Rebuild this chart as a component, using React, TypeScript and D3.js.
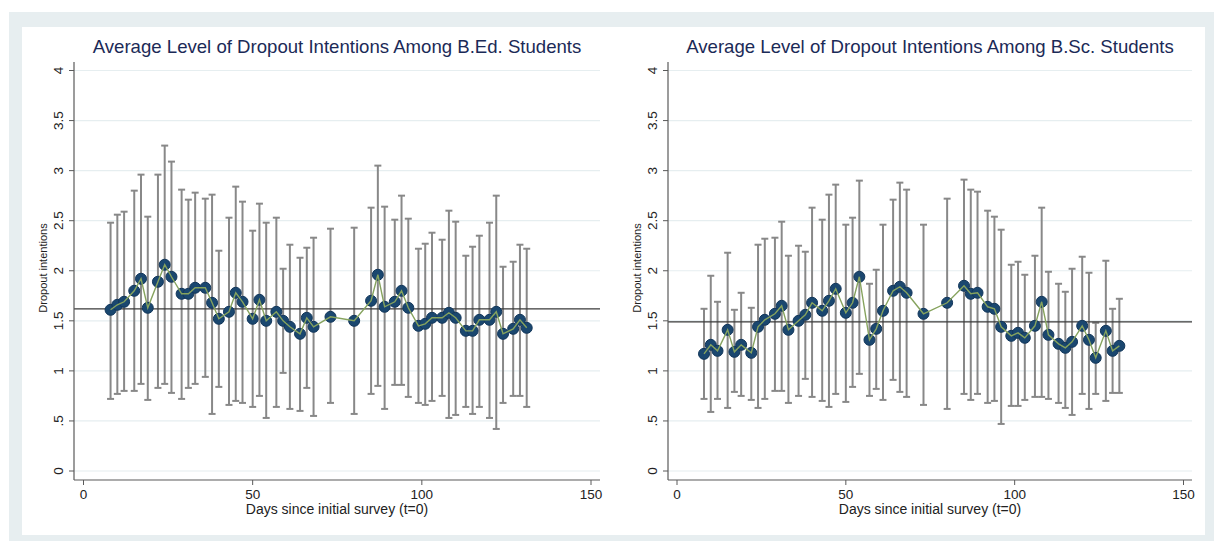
import React from "react";
import * as d3 from "d3";

// days since the first survey, shared by both groups
const days = [
  8, 10, 12, 15, 17, 19, 22, 24, 26, 29, 31, 33, 36, 38, 40, 43, 45, 47, 50, 52,
  54, 57, 59, 61, 64, 66, 68, 73, 80, 85, 87, 89, 92, 94, 96, 99, 101, 103, 106, 108,
  110, 113, 115, 117, 120, 122, 124, 127, 129, 131,
];

// B.Ed. students
const bedMean = [
  1.61, 1.66, 1.69, 1.8, 1.92, 1.63, 1.89, 2.06, 1.94, 1.77, 1.77, 1.83, 1.83, 1.68, 1.52, 1.59, 1.78, 1.69, 1.52, 1.71,
  1.5, 1.59, 1.5, 1.44, 1.37, 1.53, 1.44, 1.54, 1.5, 1.7, 1.96, 1.64, 1.69, 1.8, 1.63, 1.45, 1.47, 1.53, 1.53, 1.58,
  1.53, 1.4, 1.4, 1.51, 1.51, 1.59, 1.37, 1.42, 1.51, 1.43,
];
const bedHigh = [
  2.48, 2.56, 2.59, 2.8, 2.96, 2.54, 2.96, 3.25, 3.09, 2.81, 2.71, 2.78, 2.72, 2.76, 2.2, 2.53, 2.84, 2.69, 2.4, 2.67,
  2.48, 2.53, 2.02, 2.26, 2.13, 2.23, 2.33, 2.42, 2.43, 2.63, 3.05, 2.64, 2.51, 2.75, 2.52, 2.22, 2.27, 2.38, 2.31, 2.6,
  2.49, 2.15, 2.24, 2.35, 2.48, 2.75, 2.04, 2.09, 2.26, 2.22,
];
const bedLow = [
  0.72, 0.77, 0.8, 0.8, 0.87, 0.71, 0.83, 0.87, 0.78, 0.72, 0.83, 0.87, 0.94, 0.57, 0.84, 0.66, 0.7, 0.68, 0.64, 0.75,
  0.53, 0.64, 0.98, 0.62, 0.6, 0.83, 0.55, 0.68, 0.57, 0.77, 0.85, 0.62, 0.86, 0.86, 0.74, 0.68, 0.66, 0.7, 0.75, 0.53,
  0.56, 0.64, 0.57, 0.64, 0.53, 0.42, 0.68, 0.75, 0.75, 0.64,
];
const bedOverall = 1.62;

// B.Sc. students
const bscMean = [
  1.17, 1.26, 1.2, 1.41, 1.19, 1.26, 1.18, 1.44, 1.51, 1.57, 1.65, 1.41, 1.5, 1.56, 1.68, 1.6, 1.7, 1.82, 1.58, 1.68,
  1.94, 1.31, 1.42, 1.6, 1.8, 1.84, 1.78, 1.57, 1.68, 1.85, 1.77, 1.78, 1.64, 1.62, 1.44, 1.35, 1.38, 1.33, 1.45, 1.69,
  1.36, 1.27, 1.23, 1.29, 1.45, 1.31, 1.13, 1.4, 1.2, 1.25,
];
const bscHigh = [
  1.62, 1.95, 1.69, 2.18, 1.61, 1.78, 1.63, 2.26, 2.32, 2.33, 2.49, 2.15, 2.25, 2.19, 2.63, 2.51, 2.76, 2.86, 2.46, 2.53,
  2.9, 1.87, 2.01, 2.46, 2.71, 2.88, 2.81, 2.46, 2.72, 2.91, 2.81, 2.79, 2.6, 2.54, 2.41, 2.06, 2.09, 1.96, 2.15, 2.63,
  1.99, 1.87, 1.79, 2.02, 2.14, 1.98, 1.48, 2.1, 1.62, 1.72,
];
const bscLow = [
  0.72, 0.59, 0.72, 0.63, 0.79, 0.75, 0.71, 0.63, 0.72, 0.8, 0.8, 0.68, 0.75, 0.92, 0.74, 0.7, 0.64, 0.77, 0.69, 0.84,
  0.97, 0.75, 0.82, 0.71, 0.91, 0.79, 0.74, 0.66, 0.62, 0.77, 0.71, 0.77, 0.68, 0.7, 0.47, 0.65, 0.65, 0.71, 0.74, 0.74,
  0.72, 0.68, 0.63, 0.56, 0.77, 0.62, 0.77, 0.7, 0.78, 0.78,
];
const bscOverall = 1.49;

const yTicks = [0, 0.5, 1, 1.5, 2, 2.5, 3, 3.5, 4];
const yTickLabels = ["0", ".5", "1", "1.5", "2", "2.5", "3", "3.5", "4"];
const xTicks = [0, 50, 100, 150];

const FONT = "'Liberation Sans', Arial, Helvetica, sans-serif";

type PanelProps = {
  title: string;
  mean: number[];
  high: number[];
  low: number[];
  overall: number;
  axisX: number;
  x0: number;
  x150: number;
  right: number;
};

function Panel({ title, mean, high, low, overall, axisX, x0, x150, right }: PanelProps) {
  const x = d3.scaleLinear().domain([0, 150]).range([x0, x150]);
  const y = d3.scaleLinear().domain([0, 4]).range([471, 70.5]);
  const axisY = 480;
  const center = (axisX + right) / 2;

  const line = d3
    .line<number>()
    .x((_, i) => x(days[i]))
    .y((d) => y(d));

  return (
    <g fontFamily={FONT}>
      <text x={center} y={53} textAnchor="middle" fontSize={18.6} fill="#1b2a57">
        {title}
      </text>

      {/* grid */}
      {yTicks.map((t) => (
        <line key={"g" + t} x1={axisX} x2={right} y1={y(t)} y2={y(t)} stroke="#e6eef0" strokeWidth={1.2} />
      ))}

      {/* confidence bars */}
      {days.map((d, i) => (
        <g key={"e" + i} stroke="#888888" strokeWidth={2}>
          <line x1={x(d)} x2={x(d)} y1={y(high[i])} y2={y(low[i])} />
          <line x1={x(d) - 3.5} x2={x(d) + 3.5} y1={y(high[i])} y2={y(high[i])} />
          <line x1={x(d) - 3.5} x2={x(d) + 3.5} y1={y(low[i])} y2={y(low[i])} />
        </g>
      ))}

      {/* overall mean */}
      <line x1={axisX} x2={right} y1={y(overall)} y2={y(overall)} stroke="#3a3a3a" strokeWidth={1.3} />

      {days.map((d, i) => (
        <circle key={"m" + i} cx={x(d)} cy={y(mean[i])} r={5.5} fill="#1a476f" stroke="#12365a" strokeWidth={1} />
      ))}
      <path d={line(mean) ?? ""} fill="none" stroke="#86a35e" strokeWidth={1.4} />

      {/* axes */}
      <line x1={axisX} x2={axisX} y1={62} y2={axisY} stroke="#5a5a5a" strokeWidth={1.2} />
      <line x1={axisX} x2={right} y1={axisY} y2={axisY} stroke="#5a5a5a" strokeWidth={1.2} />

      {yTicks.map((t, i) => (
        <g key={"y" + t}>
          <line x1={axisX - 5} x2={axisX} y1={y(t)} y2={y(t)} stroke="#5a5a5a" strokeWidth={1} />
          <text
            transform={`translate(${axisX - 11},${y(t)}) rotate(-90)`}
            textAnchor="middle"
            fontSize={13.5}
            fill="#222"
          >
            {yTickLabels[i]}
          </text>
        </g>
      ))}
      <text
        transform={`translate(${axisX - 27},268) rotate(-90)`}
        textAnchor="middle"
        fontSize={11}
        fill="#222"
      >
        Dropout intentions
      </text>

      {xTicks.map((t) => (
        <g key={"x" + t}>
          <line x1={x(t)} x2={x(t)} y1={axisY} y2={axisY + 5} stroke="#5a5a5a" strokeWidth={1} />
          <text x={x(t)} y={499} textAnchor="middle" fontSize={13.5} fill="#222">
            {t}
          </text>
        </g>
      ))}
      <text x={center} y={514} textAnchor="middle" fontSize={14} fill="#222">
        Days since initial survey (t=0)
      </text>
    </g>
  );
}

export default function App() {
  return (
    <svg
      width={1214}
      height={541}
      style={{ position: "absolute", left: 0, top: 0, background: "#fff" }}
    >
      <rect x={9} y={12} width={1205} height={529} fill="#e7eef0" />
      <rect x={22} y={27} width={1183} height={508} fill="#fff" />
      <Panel
        title="Average Level of Dropout Intentions Among B.Ed. Students"
        mean={bedMean}
        high={bedHigh}
        low={bedLow}
        overall={bedOverall}
        axisX={74}
        x0={83.5}
        x150={591}
        right={600}
      />
      <Panel
        title="Average Level of Dropout Intentions Among B.Sc. Students"
        mean={bscMean}
        high={bscHigh}
        low={bscLow}
        overall={bscOverall}
        axisX={668}
        x0={677}
        x150={1183.5}
        right={1192}
      />
    </svg>
  );
}
